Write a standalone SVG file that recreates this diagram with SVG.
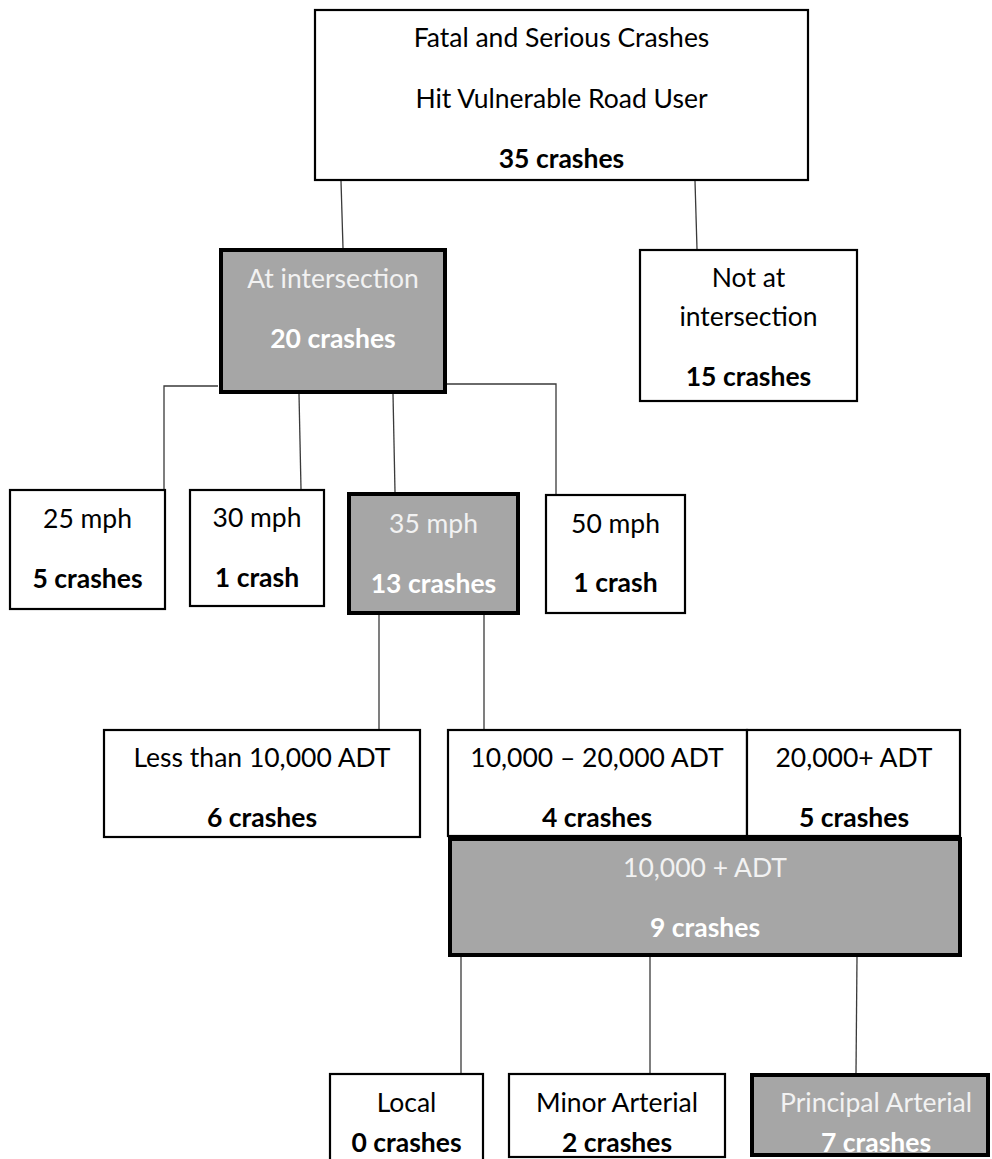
<svg xmlns="http://www.w3.org/2000/svg" width="992" height="1159" viewBox="0 0 992 1159">
<style>
  .box { fill: #ffffff; stroke: #000000; stroke-width: 2.2; }
  .hl { fill: #a6a6a6; stroke: #000000; stroke-width: 4; }
  .conn { fill: none; stroke: #3a3a3a; stroke-width: 1.3; }
  text { font-family: Lato, Carlito, "Liberation Sans", sans-serif; font-size: 26.5px; text-anchor: middle; fill: #000000; }
  .b { font-weight: bold; }
  .w { fill: #f2f2f2; }
  .wb { fill: #ffffff; font-weight: bold; }
</style>
<rect width="992" height="1159" fill="#ffffff"/>

<g id="connectors">
  <line class="conn" x1="341" y1="181" x2="343" y2="248"/>
  <line class="conn" x1="695" y1="181" x2="697" y2="249"/>
  <polyline class="conn" points="218,386 164,386 164,489"/>
  <line class="conn" x1="299" y1="394" x2="301" y2="489"/>
  <line class="conn" x1="393" y1="394" x2="395" y2="492"/>
  <polyline class="conn" points="447,384 556,384 556,494"/>
  <line class="conn" x1="379" y1="615" x2="379" y2="729"/>
  <line class="conn" x1="484" y1="615" x2="484" y2="729"/>
  <line class="conn" x1="461" y1="957" x2="461" y2="1073"/>
  <line class="conn" x1="650" y1="957" x2="650" y2="1073"/>
  <line class="conn" x1="857" y1="957" x2="856" y2="1073"/>
</g>

<g id="node-root">
  <rect class="box" x="315" y="10" width="493" height="170"/>
  <text x="561.5" y="47">Fatal and Serious Crashes</text>
  <text x="561.5" y="108">Hit Vulnerable Road User</text>
  <text class="b" x="561.5" y="168">35 crashes</text>
</g>

<g id="node-at-intersection">
  <rect class="hl" x="221" y="250" width="224" height="142"/>
  <text class="w" x="333" y="288">At intersection</text>
  <text class="wb" x="333" y="348">20 crashes</text>
</g>

<g id="node-not-at-intersection">
  <rect class="box" x="640" y="250" width="217" height="151"/>
  <text x="748.5" y="287">Not at</text>
  <text x="748.5" y="326">intersection</text>
  <text class="b" x="748.5" y="386">15 crashes</text>
</g>

<g id="node-25mph">
  <rect class="box" x="10" y="490" width="155" height="119"/>
  <text x="87.5" y="528">25 mph</text>
  <text class="b" x="87.5" y="588">5 crashes</text>
</g>

<g id="node-30mph">
  <rect class="box" x="190" y="490" width="134" height="116"/>
  <text x="257" y="527">30 mph</text>
  <text class="b" x="257" y="587">1 crash</text>
</g>

<g id="node-35mph">
  <rect class="hl" x="349" y="494" width="169" height="119"/>
  <text class="w" x="433.5" y="533">35 mph</text>
  <text class="wb" x="433.5" y="593">13 crashes</text>
</g>

<g id="node-50mph">
  <rect class="box" x="546" y="495" width="139" height="118"/>
  <text x="615.5" y="533">50 mph</text>
  <text class="b" x="615.5" y="592">1 crash</text>
</g>

<g id="node-lt10k">
  <rect class="box" x="104" y="730" width="316" height="107"/>
  <text x="262" y="767">Less than 10,000 ADT</text>
  <text class="b" x="262" y="827">6 crashes</text>
</g>

<g id="node-10k-20k">
  <rect class="box" x="448" y="730" width="299" height="106"/>
  <text x="597" y="767">10,000 – 20,000 ADT</text>
  <text class="b" x="597" y="827">4 crashes</text>
</g>

<g id="node-20kplus">
  <rect class="box" x="747" y="730" width="213" height="106"/>
  <text x="854" y="767">20,000+ ADT</text>
  <text class="b" x="854" y="827">5 crashes</text>
</g>

<g id="node-10kplus">
  <rect class="hl" x="450" y="839" width="510" height="116"/>
  <text class="w" x="705" y="877">10,000 + ADT</text>
  <text class="wb" x="705" y="937">9 crashes</text>
</g>

<g id="node-local">
  <rect class="box" x="330" y="1074" width="153" height="100"/>
  <text x="406.5" y="1112">Local</text>
  <text class="b" x="406.5" y="1152">0 crashes</text>
</g>

<g id="node-minor">
  <rect class="box" x="509" y="1074" width="216" height="83"/>
  <text x="617" y="1112">Minor Arterial</text>
  <text class="b" x="617" y="1152">2 crashes</text>
</g>

<g id="node-principal">
  <rect class="hl" x="752" y="1075" width="236" height="80"/>
  <text class="w" x="876" y="1112">Principal Arterial</text>
  <text class="wb" x="876" y="1152">7 crashes</text>
</g>
</svg>
